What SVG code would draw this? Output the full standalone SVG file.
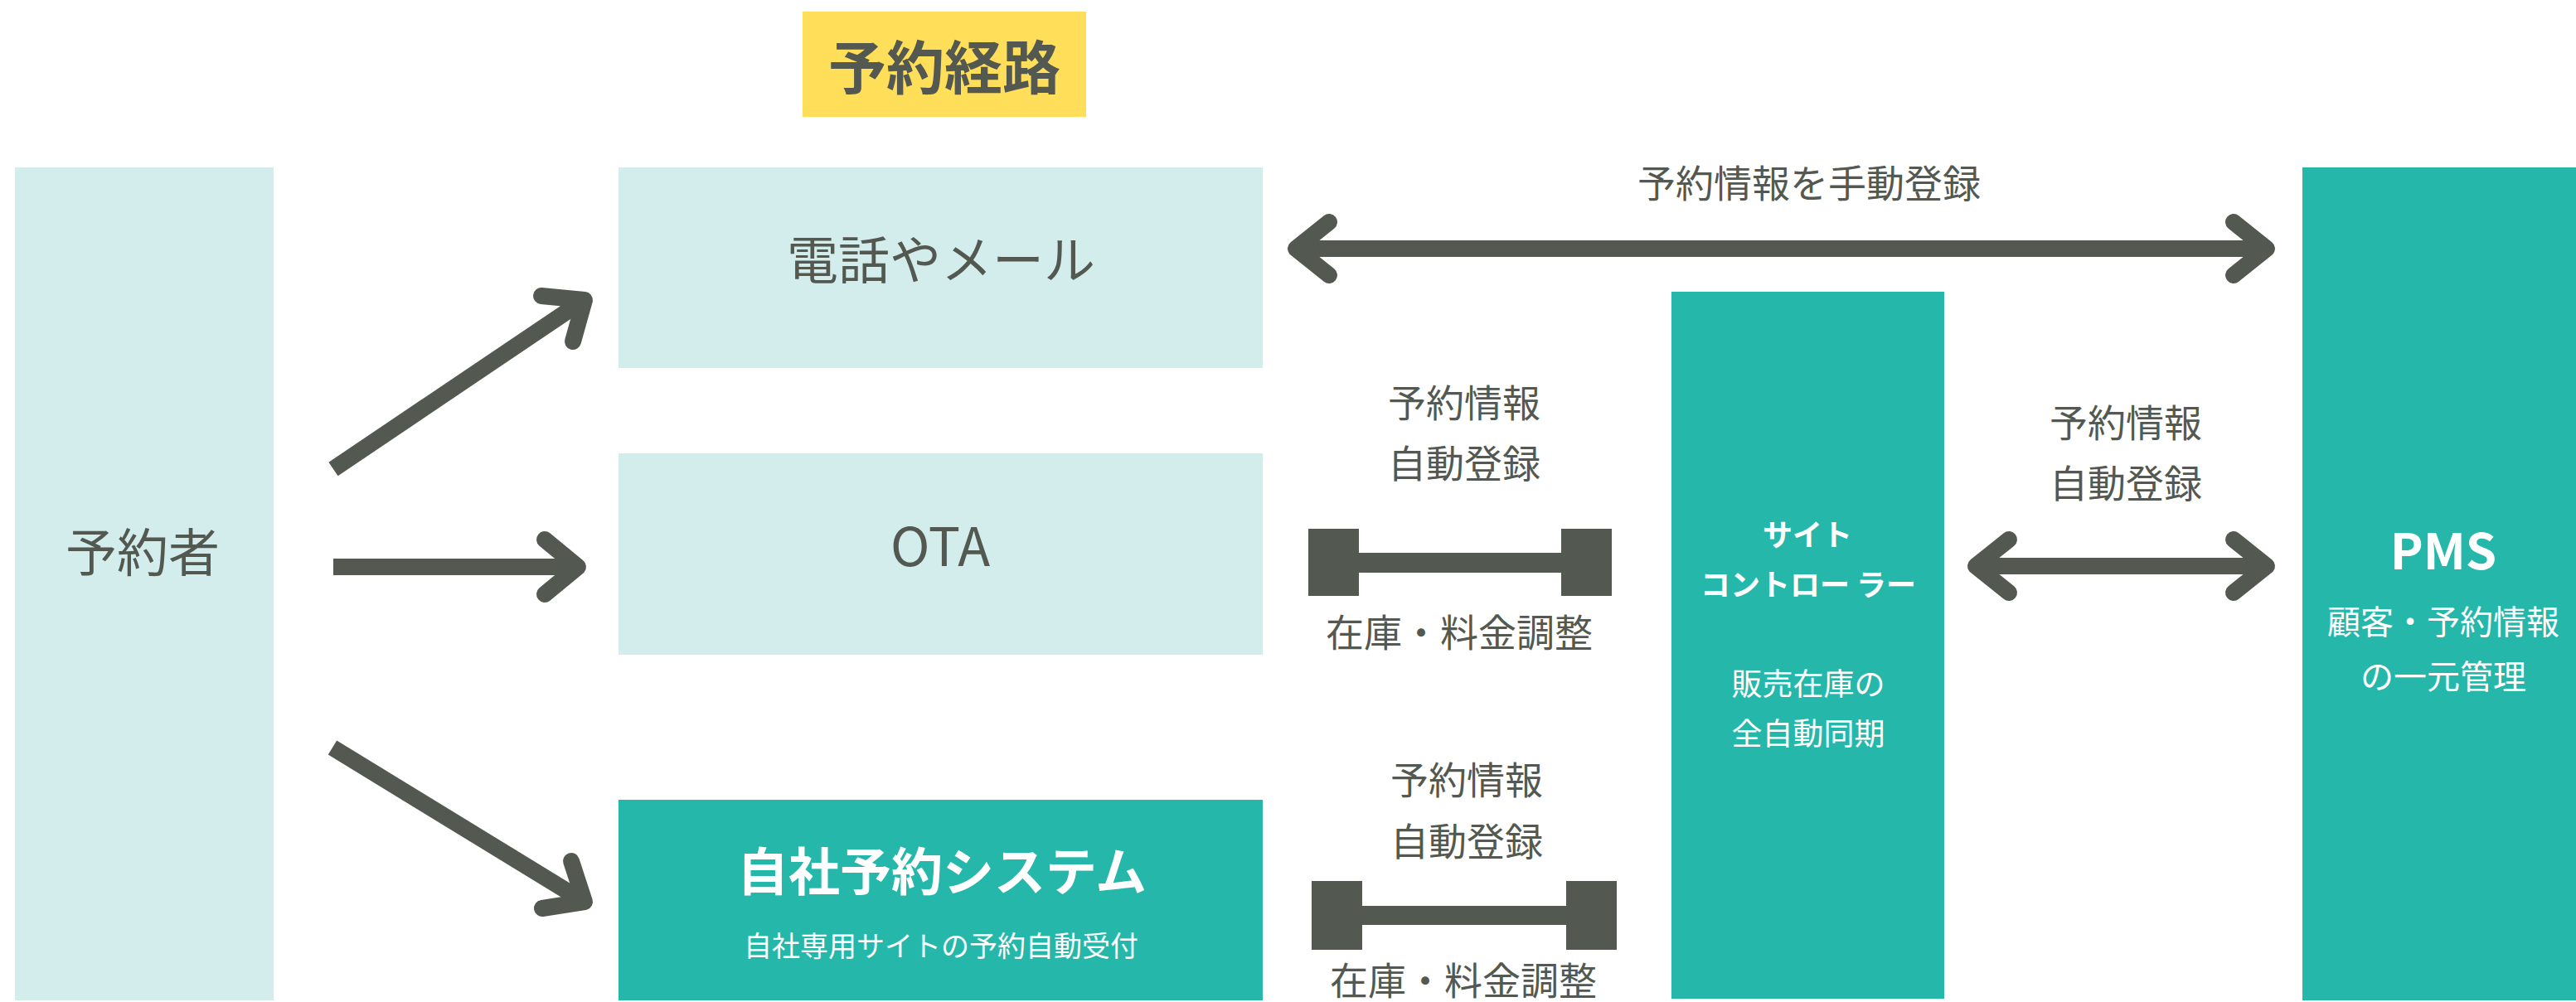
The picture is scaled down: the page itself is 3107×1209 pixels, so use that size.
<svg xmlns="http://www.w3.org/2000/svg" width="3107" height="1209" viewBox="0 0 3107 1209">
<style>
.light{fill:#d3ecec}
.teal{fill:#25b7aa}
.t{font-family:"Noto Sans CJK JP","Noto Sans",sans-serif;fill:#535950;text-anchor:middle;dominant-baseline:central}
.w{fill:#ffffff}
.b{font-weight:700}
.shaft{stroke:#535950;stroke-width:20;fill:none;stroke-linecap:butt}
.head{stroke:#535950;stroke-width:20;fill:none;stroke-linecap:round;stroke-linejoin:round}
.bar{fill:#535950}
</style>
<rect width="3107" height="1209" fill="#ffffff"/>
<g id="title">
<rect x="968" y="14" width="342" height="127" fill="#ffde59"/>
<text class="t b" x="1139" y="77" font-size="70">予約経路</text>
</g>
<g id="booker">
<rect class="light" x="18" y="202" width="312" height="1005"/>
<text class="t" x="172" y="663" font-size="62">予約者</text>
</g>
<g id="phone">
<rect class="light" x="746" y="202" width="777" height="242"/>
<text class="t" x="1135" y="310" font-size="62">電話やメール</text>
</g>
<g id="ota">
<rect class="light" x="746" y="547" width="777" height="243"/>
<text class="t" x="1134" y="655" font-size="64">OTA</text>
</g>
<g id="own">
<rect class="teal" x="746" y="965" width="777" height="242"/>
<text class="t w b" x="1136" y="1048" font-size="62">自社予約システム</text>
<text class="t w" x="1135" y="1139" font-size="34">自社専用サイトの予約自動受付</text>
</g>
<g id="sitecontroller">
<rect class="teal" x="2016" y="352" width="329" height="853"/>
<text class="t w b" x="2180" y="643" font-size="36">サイト</text>
<text class="t w b" x="2181" y="703" font-size="36">コントロー ラー</text>
<text class="t w" x="2181" y="823" font-size="37">販売在庫の</text>
<text class="t w" x="2181" y="883" font-size="37">全自動同期</text>
</g>
<g id="pms">
<rect class="teal" x="2777" y="202" width="330" height="1005"/>
<text class="t w b" x="2947" y="660" font-size="60">PMS</text>
<text class="t w" x="2947" y="748" font-size="40">顧客・予約情報</text>
<text class="t w" x="2947" y="814" font-size="40">の一元管理</text>
</g>
<g id="connectors">
<line class="shaft" x1="402" y1="566" x2="700" y2="365"/>
<polyline class="head" points="653,357 705,362 691,412"/>
<line class="shaft" x1="402" y1="684" x2="695" y2="684"/>
<polyline class="head" points="657,651 697,684 657,717"/>
<line class="shaft" x1="401" y1="902" x2="700" y2="1085"/>
<polyline class="head" points="689,1039 705,1088 654,1096"/>
<line class="shaft" x1="1565" y1="300" x2="2732" y2="300"/>
<polyline class="head" points="1603,268 1563,300 1603,332"/>
<polyline class="head" points="2694,268 2734,300 2694,332"/>
<line class="shaft" x1="2385" y1="683" x2="2732" y2="683"/>
<polyline class="head" points="2423,651 2383,683 2423,715"/>
<polyline class="head" points="2694,651 2734,683 2694,715"/>
<g id="sync-upper">
<rect class="bar" x="1578" y="638" width="61" height="81"/>
<rect class="bar" x="1883" y="638" width="61" height="81"/>
<rect class="bar" x="1639" y="667" width="244" height="24"/>
</g>
<g id="sync-lower">
<rect class="bar" x="1582" y="1063" width="61" height="83"/>
<rect class="bar" x="1889" y="1063" width="61" height="83"/>
<rect class="bar" x="1643" y="1093" width="246" height="23"/>
</g>
<text class="t" x="2182" y="218" font-size="46">予約情報を手動登録</text>
<text class="t" x="1766" y="483" font-size="46">予約情報</text>
<text class="t" x="1766" y="556" font-size="46">自動登録</text>
<text class="t" x="1760" y="760" font-size="46">在庫・料金調整</text>
<text class="t" x="1769" y="938" font-size="46">予約情報</text>
<text class="t" x="1769" y="1012" font-size="46">自動登録</text>
<text class="t" x="1765" y="1180" font-size="46">在庫・料金調整</text>
<text class="t" x="2564" y="507" font-size="46">予約情報</text>
<text class="t" x="2564" y="580" font-size="46">自動登録</text>
</g>
</svg>
